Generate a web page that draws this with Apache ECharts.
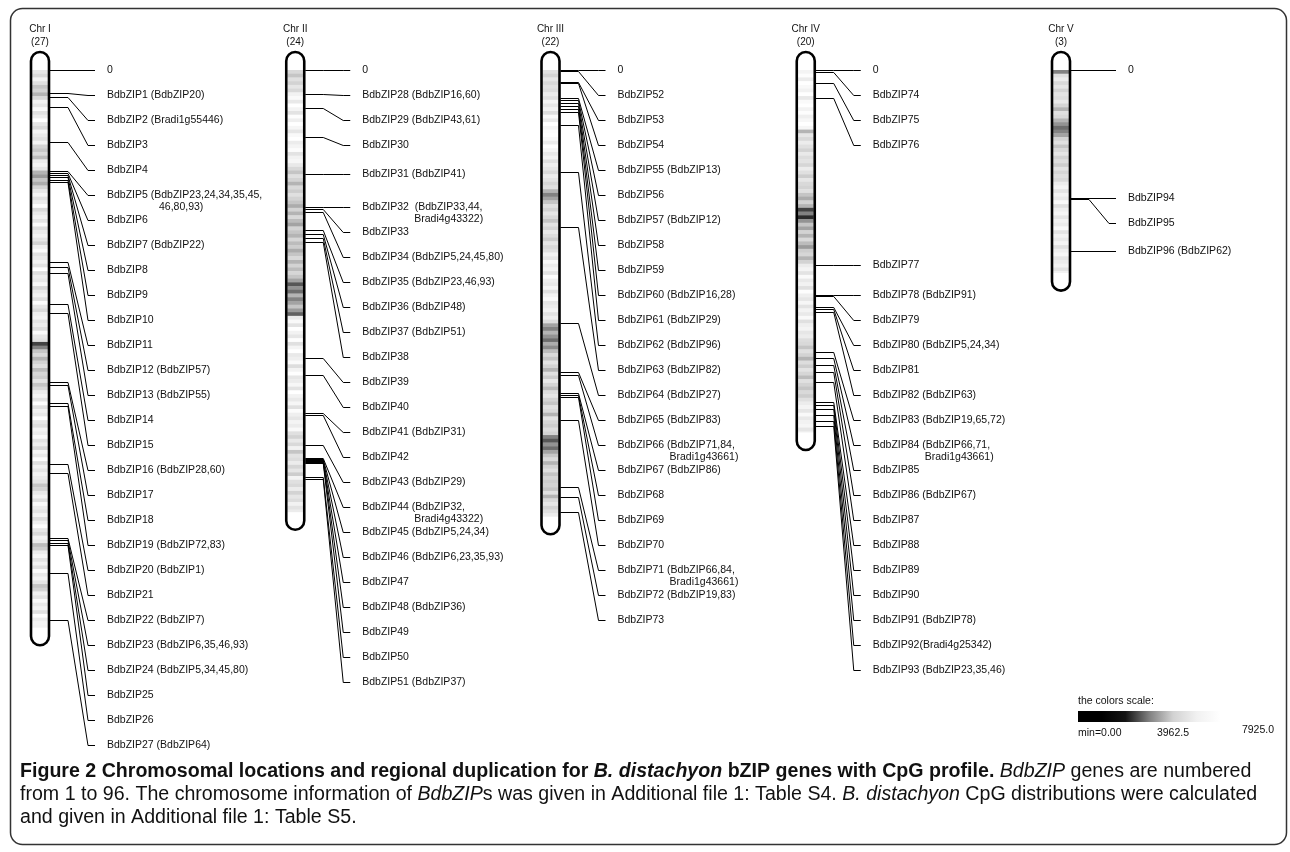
<!DOCTYPE html>
<html>
<head>
<meta charset="utf-8">
<title>BdbZIP chromosomal locations</title>
<script src="https://cdn.jsdelivr.net/npm/echarts@6/dist/echarts.min.js"></script>
<style>
  html, body { margin: 0; padding: 0; background: #ffffff; }
  #chart { width: 1290px; height: 852px; }
</style>
</head>
<body>
<div id="chart"></div>
<script>
// ---- chromosomes ----
const chromosomes = ['Chr I', 'Chr II', 'Chr III', 'Chr IV', 'Chr V'];
const geneCounts = [27, 24, 22, 20, 3];
const chromLengthMb = [74.8, 59.3, 59.9, 48.6, 27.2];

// ---- gene positions (Mb from the top of each chromosome) ----
const genePosChrI = [3.1, 3.6, 5.0, 9.7, 13.5, 13.8, 14.1, 14.4, 14.7, 15.0, 25.8, 26.4, 27.2, 31.4,
  32.6, 41.9, 42.3, 44.7, 45.1, 52.9, 54.1, 62.8, 63.1, 63.5, 63.8, 67.5, 73.8];
const genePosChrII = [3.2, 5.1, 9.0, 14.0, 18.4, 18.7, 19.0, 21.5, 22.0, 22.6, 23.1, 38.7, 40.9,
  46.0, 46.3, 50.3, 52.1, 52.2, 52.3, 52.5, 52.6, 52.8, 54.6, 54.9];
const genePosChrIII = [0.1, 1.6, 1.75, 3.8, 4.0, 4.4, 4.8, 5.2, 5.6, 7.4, 13.7, 21.1, 34.0, 40.5,
  40.9, 43.4, 43.6, 43.9, 47.0, 56.0, 57.3, 59.3];
const genePosChrIV = [0.27, 1.7, 3.8, 26.2, 30.2, 30.3, 31.8, 32.1, 32.5, 37.9, 38.7, 39.6, 40.5,
  41.9, 44.6, 45.0, 45.5, 46.3, 47.1, 47.8];
const genePosChrV = [17.2, 17.3, 24.3];

// ---- gene labels (paralogues in brackets) ----
const geneNamesChrI = ['BdbZIP1 (BdbZIP20)', 'BdbZIP2 (Bradi1g55446)', 'BdbZIP3', 'BdbZIP4',
  'BdbZIP5 (BdbZIP23,24,34,35,45,\n46,80,93)', 'BdbZIP6', 'BdbZIP7 (BdbZIP22)', 'BdbZIP8', 'BdbZIP9',
  'BdbZIP10', 'BdbZIP11', 'BdbZIP12 (BdbZIP57)', 'BdbZIP13 (BdbZIP55)', 'BdbZIP14', 'BdbZIP15',
  'BdbZIP16 (BdbZIP28,60)', 'BdbZIP17', 'BdbZIP18', 'BdbZIP19 (BdbZIP72,83)', 'BdbZIP20 (BdbZIP1)',
  'BdbZIP21', 'BdbZIP22 (BdbZIP7)', 'BdbZIP23 (BdbZIP6,35,46,93)', 'BdbZIP24 (BdbZIP5,34,45,80)',
  'BdbZIP25', 'BdbZIP26', 'BdbZIP27 (BdbZIP64)'];
const geneNamesChrII = ['BdbZIP28 (BdbZIP16,60)', 'BdbZIP29 (BdbZIP43,61)', 'BdbZIP30',
  'BdbZIP31 (BdbZIP41)', 'BdbZIP32  (BdbZIP33,44,\nBradi4g43322)', 'BdbZIP33',
  'BdbZIP34 (BdbZIP5,24,45,80)', 'BdbZIP35 (BdbZIP23,46,93)', 'BdbZIP36 (BdbZIP48)',
  'BdbZIP37 (BdbZIP51)', 'BdbZIP38', 'BdbZIP39', 'BdbZIP40', 'BdbZIP41 (BdbZIP31)', 'BdbZIP42',
  'BdbZIP43 (BdbZIP29)', 'BdbZIP44 (BdbZIP32,\nBradi4g43322)', 'BdbZIP45 (BdbZIP5,24,34)',
  'BdbZIP46 (BdbZIP6,23,35,93)', 'BdbZIP47', 'BdbZIP48 (BdbZIP36)', 'BdbZIP49', 'BdbZIP50',
  'BdbZIP51 (BdbZIP37)'];
const geneNamesChrIII = ['BdbZIP52', 'BdbZIP53', 'BdbZIP54', 'BdbZIP55 (BdbZIP13)', 'BdbZIP56',
  'BdbZIP57 (BdbZIP12)', 'BdbZIP58', 'BdbZIP59', 'BdbZIP60 (BdbZIP16,28)', 'BdbZIP61 (BdbZIP29)',
  'BdbZIP62 (BdbZIP96)', 'BdbZIP63 (BdbZIP82)', 'BdbZIP64 (BdbZIP27)', 'BdbZIP65 (BdbZIP83)',
  'BdbZIP66 (BdbZIP71,84,\nBradi1g43661)', 'BdbZIP67 (BdbZIP86)', 'BdbZIP68', 'BdbZIP69', 'BdbZIP70',
  'BdbZIP71 (BdbZIP66,84,\nBradi1g43661)', 'BdbZIP72 (BdbZIP19,83)', 'BdbZIP73'];
const geneNamesChrIV = ['BdbZIP74', 'BdbZIP75', 'BdbZIP76', 'BdbZIP77', 'BdbZIP78 (BdbZIP91)',
  'BdbZIP79', 'BdbZIP80 (BdbZIP5,24,34)', 'BdbZIP81', 'BdbZIP82 (BdbZIP63)',
  'BdbZIP83 (BdbZIP19,65,72)', 'BdbZIP84 (BdbZIP66,71,\nBradi1g43661)', 'BdbZIP85',
  'BdbZIP86 (BdbZIP67)', 'BdbZIP87', 'BdbZIP88', 'BdbZIP89', 'BdbZIP90', 'BdbZIP91 (BdbZIP78)',
  'BdbZIP92(Bradi4g25342)', 'BdbZIP93 (BdbZIP23,35,46)'];
const geneNamesChrV = ['BdbZIP94', 'BdbZIP95', 'BdbZIP96 (BdbZIP62)'];

// ---- CpG counts per 0.5-Mb window, in hundreds ----
const cpgChrI = [46, 42, 50, 44, 38, 40, 36, 42, 50, 46, 55, 44, 48, 60, 46, 42, 52, 47, 44, 50,
  40, 38, 42, 37, 48, 52, 46, 36, 33, 38, 35, 40,
  46, 52, 44, 48, 58, 42, 47, 50, 45, 55, 43, 48, 52, 46, 40, 49, 56, 44, 47, 51, 45, 60, 43, 48,
  46, 53, 41, 47, 50, 44, 57, 46, 42, 49, 52, 45, 48, 43, 55, 46, 44,
  24, 30, 38, 42, 36, 40, 44, 37, 41, 39, 45, 38, 42,
  48, 52, 45, 57, 44, 50, 47, 60, 46, 43, 51, 48, 55, 45, 49, 42, 53, 47, 58, 44, 50, 46, 52, 48, 45,
  38, 40, 47, 52, 44, 56, 48, 45, 51, 43, 49, 58, 46, 42, 50, 47, 37, 39,
  48, 53, 45, 50, 44, 57, 47, 52, 46, 38, 40, 49, 45, 55, 47, 51, 44, 58, 48, 52, 50];
const cpgChrII = [42, 38, 44, 40, 46, 42,
  50, 56, 47, 60, 52, 45, 58, 49, 62, 53, 46, 55, 60, 48, 52, 57, 45, 50, 54, 47,
  42, 38, 44, 40, 36, 42, 39, 44, 40,
  38, 35, 40, 36, 42, 37, 34, 40, 38, 36, 41, 37, 39, 35,
  38, 42, 36, 40, 37, 41, 38, 34,
  26, 32, 28, 36, 30, 34, 38, 33, 27,
  48, 55, 45, 60, 50, 46, 58, 44, 52, 62, 47, 49, 56, 43, 51, 59, 46, 48, 54, 45, 61, 50, 47, 53,
  44, 57, 49, 46, 52, 48, 55,
  44, 40, 47, 42, 50, 38, 45, 43, 48, 41, 46, 39, 52, 44, 42, 48, 40, 46, 43, 50, 45, 48];
const cpgChrIII = [44, 40, 46, 42, 45, 43,
  48, 44, 52, 46, 50, 43, 55, 47, 60, 52, 58, 62, 55, 48, 60, 53, 47, 51, 44, 49, 46, 42, 48, 45, 41, 44,
  36, 30, 34, 38,
  44, 40, 46, 42, 38, 45, 41, 47, 43, 39, 46, 42, 44,
  50, 46, 55, 48, 52, 45, 58, 49, 47, 53, 44, 50, 56, 46, 48, 52, 45, 49, 43,
  34, 30, 36, 32, 28, 35, 31, 37,
  42, 38, 45, 40, 36, 44, 39, 47, 41, 37, 43, 46, 40, 38, 44, 42, 36, 45, 41, 39, 43, 40,
  30, 26, 32, 28, 34,
  38, 42, 36, 40, 44, 38, 41, 39,
  40, 38, 44, 36, 42, 46, 40, 44, 48];
const cpgChrIV = [52, 58, 48, 62, 55, 50, 60, 47, 56, 62, 51, 58, 49, 54, 60, 53,
  36,
  46, 42, 48, 44, 40, 47, 43, 45, 41, 48, 44, 39, 46, 42, 40, 44,
  38, 35, 40, 36,
  24, 30, 22, 32,
  38, 34, 40, 36, 42, 37, 33, 39, 41, 36, 40,
  48, 52, 45, 56, 47, 50, 44, 58, 49, 46, 53, 45, 51, 47, 55, 44, 49, 52, 46, 48, 43,
  42, 38, 44, 40, 36, 43, 39, 45, 41, 37, 44, 40, 38, 42, 39, 44,
  48, 52, 46, 55, 47, 50, 53, 46, 49];
const cpgChrV = [30,
  44, 48, 42, 46, 40, 45, 43, 47, 41,
  36, 44, 42,
  36, 32, 28, 30, 34,
  40, 44, 38, 42, 46, 40, 43, 39, 45, 41, 44, 42,
  48, 52, 45, 50, 47, 55, 44, 49, 53, 46, 51, 48, 56, 45, 50, 47, 52, 44, 49, 54, 46, 48, 51, 45, 50];
const windowMb = 0.5;

// ---- colour scale ----
const scaleMin = 0;
const scaleMax = 7925;
const scaleTitle = 'the colors scale:';
const scaleTickValues = [0, 3962.5, 7925];
const scaleTickLabels = ['min=0.00', '3962.5', '7925.0'];
const scaleColors = ['#000000', '#000000', '#141414', '#808080', '#d2d2d2', '#f1f1f1',
  '#ffffff', '#ffffff', '#ffffff'];

// ---- assemble ----
const genePositions = [genePosChrI, genePosChrII, genePosChrIII, genePosChrIV, genePosChrV];
const geneNames = [geneNamesChrI, geneNamesChrII, geneNamesChrIII, geneNamesChrIV, geneNamesChrV];
const cpgWindows = [cpgChrI, cpgChrII, cpgChrIII, cpgChrIV, cpgChrV];

const bandData = [];
cpgWindows.forEach((arr, c) => {
  arr.forEach((v, k) => {
    const start = k * windowMb;
    const end = Math.min((k + 1) * windowMb, chromLengthMb[c]);
    if (end > start) bandData.push([c, start, end, v * 100]);
  });
});

const BAR_HALF = 9;      // half width of a chromosome body
const CAP = 18;          // rounded end beyond the sequence
const LABEL_GAP = 25;    // minimum vertical distance between labels
const FONT = '"Liberation Sans", Arial, Helvetica, sans-serif';

function renderBand(params, api) {
  const c = api.value(0);
  const p0 = api.coord([c, api.value(1)]);
  const p1 = api.coord([c, api.value(2)]);
  return {
    type: 'rect',
    shape: { x: p0[0] - BAR_HALF + 1, y: p0[1], width: 2 * BAR_HALF - 2, height: p1[1] - p0[1] + 0.4 },
    style: { fill: api.visual('color') }
  };
}

function renderOutline(params, api) {
  const c = api.value(0);
  const p0 = api.coord([c, 0]);
  const p1 = api.coord([c, api.value(1)]);
  return {
    type: 'rect',
    shape: { x: p0[0] - BAR_HALF, y: p0[1] - CAP, width: 2 * BAR_HALF, height: p1[1] - p0[1] + 2 * CAP, r: BAR_HALF },
    style: { fill: null, stroke: '#000000', lineWidth: 2.6 }
  };
}

function renderAnnotations(params, api) {
  const c = api.value(0);
  const top = api.coord([c, 0]);
  const right = top[0] + BAR_HALF + 1;
  const children = [];
  const add = (gy, ly, text) => {
    gy = Math.round(gy) + 0.5;
    ly = Math.round(ly) + 0.5;
    children.push({
      type: 'polyline',
      shape: { points: [[right, gy], [right + 18, gy], [right + 38, ly], [right + 45, ly]] },
      style: { fill: null, stroke: '#000000', lineWidth: 1 }
    });
    const lines = text.split('\n');
    children.push({
      type: 'text',
      style: { x: right + 57, y: ly, text: lines[0], fill: '#111111', fontSize: 10.5,
        fontFamily: FONT, align: 'left', verticalAlign: 'middle' }
    });
    if (lines[1]) {
      children.push({
        type: 'text',
        style: { x: right + 109, y: ly + 12, text: lines[1], fill: '#111111', fontSize: 10.5,
          fontFamily: FONT, align: 'left', verticalAlign: 'middle' }
      });
    }
  };
  let prev = top[1];
  add(top[1], top[1], '0');
  genePositions[c].forEach((mb, k) => {
    const gy = api.coord([c, mb])[1];
    const ly = Math.max(gy, prev + LABEL_GAP);
    prev = ly;
    add(gy, ly, geneNames[c][k]);
  });
  return { type: 'group', children };
}

// colour-scale legend and caption
const legendX = 1078, legendW = 190, legendY = 711, legendH = 11;
const gradientStops = scaleColors.map((col, i) => ({ offset: i / (scaleColors.length - 1), color: col }));
const legendAligns = ['left', 'center', 'right'];
const legendGraphics = [
  { type: 'text', left: legendX, top: 696,
    style: { text: scaleTitle, fill: '#111', fontSize: 10.5, fontFamily: FONT } },
  { type: 'rect', shape: { x: legendX, y: legendY, width: legendW, height: legendH },
    style: { fill: new echarts.graphic.LinearGradient(0, 0, 1, 0, gradientStops) } }
].concat(scaleTickValues.map((v, i) => {
  const x = legendX + (v - scaleMin) / (scaleMax - scaleMin) * legendW + (i === 2 ? 6 : 0);
  return {
    type: 'text', x: x, y: i === 2 ? 730 : 733,
    style: { text: scaleTickLabels[i], fill: '#111', fontSize: 10.5, fontFamily: FONT,
      align: legendAligns[i], verticalAlign: 'middle' }
  };
}));

const CAP_FONT = '"Liberation Sans", Arial, sans-serif';
const CAP_SIZE = 19.6;
const capRich = {
  b: { fontWeight: 'bold', fontSize: CAP_SIZE, fontFamily: CAP_FONT, fill: '#111' },
  bi: { fontWeight: 'bold', fontStyle: 'italic', fontSize: CAP_SIZE, fontFamily: CAP_FONT, fill: '#111' },
  n: { fontSize: CAP_SIZE, fontFamily: CAP_FONT, fill: '#111' },
  i: { fontStyle: 'italic', fontSize: CAP_SIZE, fontFamily: CAP_FONT, fill: '#111' }
};
const captionLines = [
  '{b|Figure 2 Chromosomal locations and regional duplication for }{bi|B. distachyon}{b| bZIP genes with CpG profile.}{n| }{i|BdbZIP}{n| genes are numbered}',
  '{n|from 1 to 96. The chromosome information of }{i|BdbZIP}{n|s was given in Additional file 1: Table S4. }{i|B. distachyon}{n| CpG distributions were calculated}',
  '{n|and given in Additional file 1: Table S5.}'
];
const captionGraphics = captionLines.map((t, i) => ({
  type: 'text', x: 20, y: 772 + i * 23,
  style: { text: t, rich: capRich, verticalAlign: 'middle', align: 'left' }
}));

const frame = {
  type: 'rect', shape: { x: 10.5, y: 8.5, width: 1276, height: 836, r: 12 },
  style: { fill: null, stroke: '#333333', lineWidth: 1.5 }, z: -1
};

const chart = echarts.init(document.getElementById('chart'), null, { renderer: 'canvas' });
chart.setOption({
  animation: false,
  backgroundColor: '#ffffff',
  grid: { left: 40, top: 70, width: 1021, height: 670.5, containLabel: false },
  xAxis: {
    type: 'category', data: chromosomes, position: 'top', boundaryGap: false,
    axisLine: { show: false }, axisTick: { show: false }, splitLine: { show: false },
    axisLabel: {
      margin: 21, fontSize: 10, lineHeight: 13, color: '#111', fontFamily: FONT, interval: 0,
      formatter: (v, i) => v + '\n(' + geneCounts[i] + ')'
    }
  },
  yAxis: { type: 'value', inverse: true, min: 0, max: 90, show: false },
  visualMap: {
    show: false, type: 'continuous', seriesIndex: 0, dimension: 3,
    min: scaleMin, max: scaleMax, inRange: { color: scaleColors }
  },
  graphic: [frame].concat(legendGraphics, captionGraphics),
  series: [
    { type: 'custom', name: 'CpG', renderItem: renderBand, data: bandData,
      encode: { x: 0, y: [1, 2] }, z: 1, silent: true },
    { type: 'custom', name: 'chromosome', renderItem: renderOutline,
      data: chromLengthMb.map((len, i) => [i, len]), encode: { x: 0, y: 1 }, z: 2, silent: true },
    { type: 'custom', name: 'genes', renderItem: renderAnnotations,
      data: chromosomes.map((_, i) => [i, 0]), encode: { x: 0, y: 1 }, z: 3, silent: true }
  ]
});
</script>
</body>
</html>
